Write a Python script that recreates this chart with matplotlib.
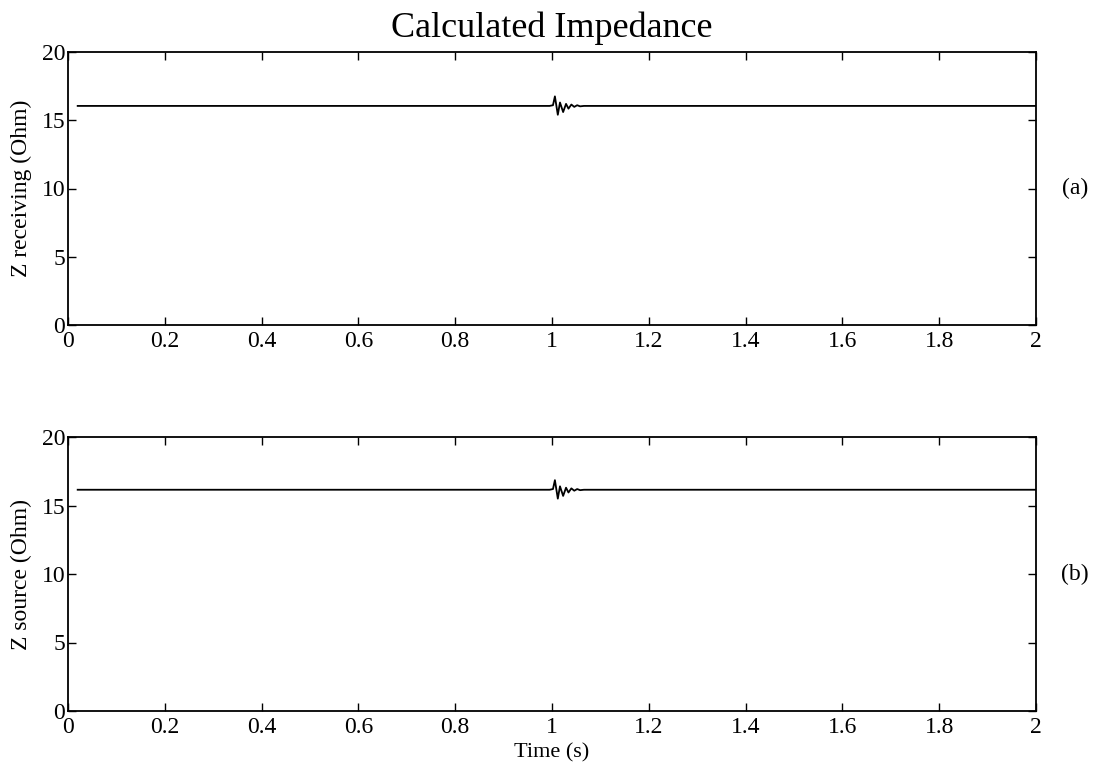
import matplotlib
matplotlib.use("Agg")
import matplotlib.pyplot as plt

plt.rcParams['font.family'] = ['Liberation Serif', 'DejaVu Serif']

# Data (time in s, impedance in Ohm)
t_recv = [0.02, 0.995, 1.002, 1.006, 1.012, 1.0165, 1.023, 1.029, 1.034, 1.040, 1.046, 1.052, 1.058, 1.066, 2.0]
z_recv = [16.05, 16.05, 16.1, 16.75, 15.4, 16.3, 15.6, 16.2, 15.85, 16.15, 15.98, 16.1, 16.02, 16.05, 16.05]

t_src = [0.02, 0.995, 1.002, 1.006, 1.012, 1.0165, 1.023, 1.029, 1.034, 1.040, 1.046, 1.052, 1.058, 1.066, 2.0]
z_src = [16.15, 16.15, 16.2, 16.85, 15.5, 16.4, 15.7, 16.3, 15.95, 16.25, 16.08, 16.2, 16.12, 16.15, 16.15]

xticks = [0, 0.2, 0.4, 0.6, 0.8, 1, 1.2, 1.4, 1.6, 1.8, 2]
xticklabels = ['0', '0.2', '0.4', '0.6', '0.8', '1', '1.2', '1.4', '1.6', '1.8', '2']
yticks = [0, 5, 10, 15, 20]

fig = plt.figure(figsize=(10.93, 7.65), dpi=100)
ax1 = fig.add_axes([68/1093, 1-325/765, 968/1093, 273/765])
ax2 = fig.add_axes([68/1093, 1-711/765, 968/1093, 274/765])

for ax, t, z, ylab, tag in [(ax1, t_recv, z_recv, 'Z receiving (Ohm)', '(a)'),
                            (ax2, t_src, z_src, 'Z source (Ohm)', '(b)')]:
    ax.plot(t, z, color='black', linewidth=1.3)
    ax.set_xlim(0, 2)
    ax.set_ylim(0, 20)
    ax.set_xticks(xticks)
    ax.set_xticklabels(xticklabels)
    ax.set_yticks(yticks)
    ax.tick_params(direction='in', top=True, right=True, length=6, width=1,
                   labelsize=17)
    ax.tick_params(axis='x', pad=4)
    ax.tick_params(axis='y', pad=2)
    for s in ax.spines.values():
        s.set_linewidth(1.3)
    ax.set_ylabel(ylab, fontsize=17, labelpad=7)
    ax.text(1.04, 0.5, tag, transform=ax.transAxes, fontsize=17,
            ha='center', va='center')

ax1.set_title('Calculated Impedance', fontsize=26, pad=11)
ax2.set_xlabel('Time (s)', fontsize=16, labelpad=4)

fig.savefig('out.png', dpi=100)
